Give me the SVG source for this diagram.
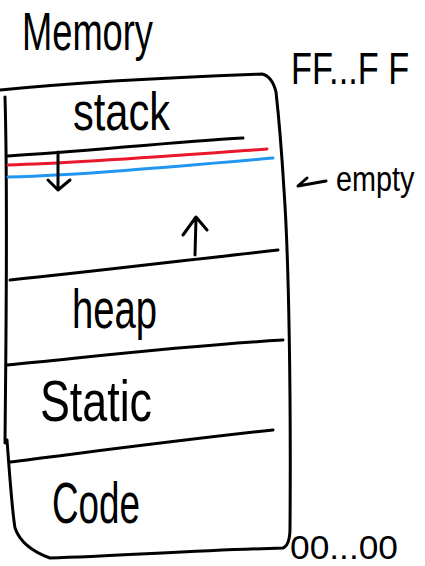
<svg xmlns="http://www.w3.org/2000/svg" width="425" height="566" viewBox="0 0 425 566">
  <style>
    .ink { fill: none; stroke: #000; stroke-width: 3; stroke-linecap: round; stroke-linejoin: round; }
    .red { fill: none; stroke: #e8172b; stroke-width: 3; stroke-linecap: round; }
    .blue { fill: none; stroke: #2196f0; stroke-width: 3; stroke-linecap: round; }
    .lbl { font-family: "Liberation Sans", "DejaVu Sans", sans-serif; fill: #000; }
  </style>
  <rect width="425" height="566" fill="#fff"/>

  <!-- title -->
  <text class="lbl" x="22" y="50" font-size="54" textLength="131" lengthAdjust="spacingAndGlyphs">Memory</text>

  <!-- memory block outline -->
  <g id="memory">
    <path class="ink" d="M5,97 C8,200 6,330 5,443 M7,440 C10,480 12,510 15,528 Q22,548 50,558 C120,556 200,550 283,548 Q290,545 290,528 C291,400 289,260 284,190 C281,140 278,110 276,92 Q272,76 262,74 C180,77 80,82 0,90"/>
  </g>

  <!-- segments -->
  <g id="stack">
    <text class="lbl" x="73" y="130" font-size="54" textLength="97" lengthAdjust="spacingAndGlyphs">stack</text>
    <path class="ink" d="M8,156 C80,152 170,142 243,138"/>
  </g>
  <g id="stack-pointer">
    <path class="red" d="M8,165 C80,163 170,156 267,149"/>
    <path class="blue" d="M8,177 C80,175 170,167 273,158"/>
  </g>
  <g id="heap">
    <path class="ink" d="M10,280 C90,272 170,262 278,250"/>
    <text class="lbl" x="72" y="328" font-size="56" textLength="85" lengthAdjust="spacingAndGlyphs">heap</text>
  </g>
  <g id="static">
    <path class="ink" d="M7,365 C90,357 180,346 283,340"/>
    <text class="lbl" x="40" y="421" font-size="58" textLength="112" lengthAdjust="spacingAndGlyphs">Static</text>
  </g>
  <g id="code">
    <path class="ink" d="M10,462 C90,452 180,440 273,430"/>
    <text class="lbl" x="52" y="523" font-size="58" textLength="88" lengthAdjust="spacingAndGlyphs">Code</text>
  </g>

  <!-- address labels (narrowed with a horizontal scale) -->
  <g id="addr-high">
    <text class="lbl" transform="translate(291,84) scale(0.78,1)" font-size="44">FF...F F</text>
  </g>
  <g id="addr-low">
    <text class="lbl" x="290" y="559" font-size="33" textLength="108" lengthAdjust="spacingAndGlyphs">00...00</text>
  </g>
  <g id="empty">
    <text class="lbl" transform="translate(336,191) scale(0.8,1)" font-size="36">empty</text>
  </g>

  <!-- growth arrows and pointers -->
  <g id="connectors">
    <path class="ink" d="M58,152 L58,190 M48,180 L58,190 L70,180"/>
    <path class="ink" d="M195,255 L196,218 M183,235 L196,217 L207,230"/>
    <path class="ink" d="M307,178 L298,186 L326,181" stroke-width="2.5"/>
  </g>
</svg>
